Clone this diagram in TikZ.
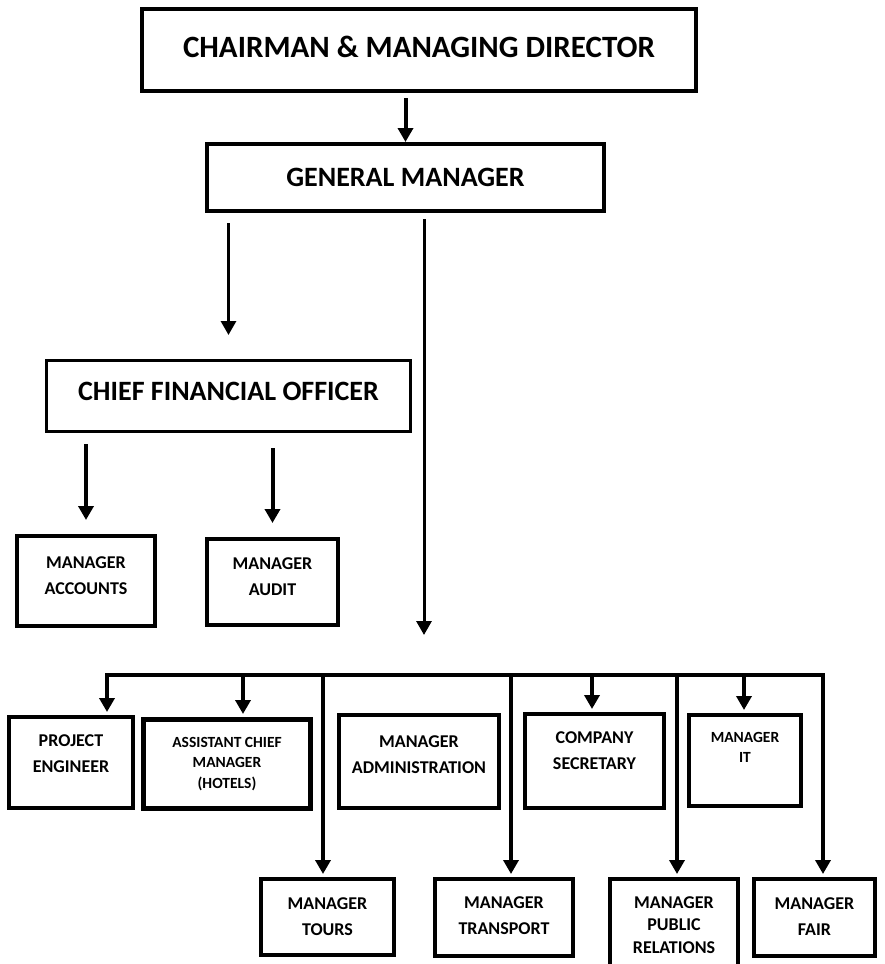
\documentclass[tikz,border=0pt]{standalone}
\usepackage{fontspec}
\setmainfont{Carlito}
\usetikzlibrary{arrows.meta}

\begin{document}
\begin{tikzpicture}[x=1pt, y=-1pt, >={Triangle[length=14pt,width=15pt]},
    box/.style={draw, line width=4pt, inner sep=0pt},
    lbl/.style={align=center, inner sep=0pt, font=\bfseries\fontsize{18}{26}\selectfont},
    small/.style={font=\bfseries\fontsize{15.5}{20.5}\selectfont},
    big/.style={font=\bfseries\fontsize{28}{32}\selectfont},
    arr/.style={->, line width=4pt}]
  \useasboundingbox (0,0) rectangle (884,964);
  \clip (0,0) rectangle (884,964);

  % Top
  \node[box, minimum width=554pt, minimum height=82pt] (chair) at (419,50) {};
  \node[box, minimum width=397pt, minimum height=67pt] (gm) at (405.5,177.5) {};
  \node[box, line width=3pt, minimum width=364pt, minimum height=71pt] (cfo) at (228.5,396) {};

  % Finance
  \node[box, minimum width=138pt, minimum height=90pt] (acc) at (86,581) {};
  \node[box, minimum width=131pt, minimum height=86pt] (aud) at (272.5,582) {};

  % Departments
  \node[box, minimum width=124pt, minimum height=91pt] (pe) at (71,762.5) {};
  \node[box, line width=5pt, minimum width=167pt, minimum height=89pt] (acm) at (227,764) {};
  \node[box, minimum width=160pt, minimum height=93pt] (adm) at (419,761.5) {};
  \node[box, minimum width=139pt, minimum height=94pt] (cs) at (594.5,761) {};
  \node[box, minimum width=112pt, minimum height=91pt] (it) at (745,760.5) {};
  \node[box, minimum width=133pt, minimum height=76pt] (tours) at (327.5,917) {};
  \node[box, minimum width=138pt, minimum height=77pt] (trans) at (504,917.5) {};
  \node[box, minimum width=128pt, minimum height=92pt] (pr) at (674,925) {};
  \node[box, minimum width=121pt, minimum height=77pt] (fair) at (814.5,917.5) {};

  % Labels
  \node[lbl, font=\bfseries\fontsize{31}{36}\selectfont] (chair-t) at ([yshift=3pt]chair) {CHAIRMAN \& MANAGING DIRECTOR};
  \node[lbl, big] (gm-t) at (gm) {GENERAL MANAGER};
  \node[lbl, big] (cfo-t) at ([yshift=5pt]cfo) {CHIEF FINANCIAL OFFICER};
  \node[lbl] (acc-t) at ([yshift=5pt]acc) {MANAGER\\ACCOUNTS};
  \node[lbl] (aud-t) at ([yshift=5.5pt]aud) {MANAGER\\AUDIT};
  \node[lbl] (pe-t) at ([yshift=9pt]pe) {PROJECT\\ENGINEER};
  \node[lbl, small] (acm-t) at (acm) {ASSISTANT CHIEF\\MANAGER\\(HOTELS)};
  \node[lbl] (adm-t) at ([yshift=7pt]adm) {MANAGER\\ADMINISTRATION};
  \node[lbl] (cs-t) at ([yshift=10pt]cs) {COMPANY\\SECRETARY};
  \node[lbl, small] (it-t) at ([yshift=13pt]it) {MANAGER\\IT};
  \node[lbl] (tours-t) at (tours) {MANAGER\\TOURS};
  \node[lbl] (trans-t) at ([yshift=2pt]trans) {MANAGER\\TRANSPORT};
  \node[lbl, font=\bfseries\fontsize{18}{22.5}\selectfont] (pr-t) at (pr) {MANAGER\\PUBLIC\\RELATIONS};
  \node[lbl] (fair-t) at ([yshift=1pt]fair) {MANAGER\\FAIR};

  % Bus
  \coordinate (d1) at (107,675);
  \coordinate (d2) at (243,675);
  \coordinate (d3) at (323,675);
  \coordinate (d4) at (511,675);
  \coordinate (d5) at (592,675);
  \coordinate (d6) at (677,675);
  \coordinate (d7) at (744,675);
  \coordinate (d8) at (823,675);
  \coordinate (gmend) at (424,635);

  % Arrows
  \draw[arr, shorten <=5pt] (chair.south -| gm.north) -- (gm.north);
  \draw[arr, line width=3pt, shorten <=10pt, shorten >=24pt] (gm.south -| cfo.north) -- (cfo.north);
  \draw[arr, line width=3pt, shorten <=6pt] (gm.south -| gmend) -- (gmend);
  \draw[arr, shorten <=11pt, shorten >=14pt] (cfo.south -| acc.north) -- (acc.north);
  \draw[arr, shorten <=15pt, shorten >=14pt] (cfo.south -| aud.north) -- (aud.north);

  \draw[line width=4pt, <->, shorten <=3pt, shorten >=3pt] (d1 |- pe.north) -- (d1) -- (d8) -- (d8 |- fair.north);
  \draw[arr, shorten >=3pt] (d2) -- (d2 |- acm.north);
  \draw[arr, shorten >=3pt] (d3) -- (d3 |- tours.north);
  \draw[arr, shorten >=3pt] (d4) -- (d4 |- trans.north);
  \draw[arr, shorten >=3pt] (d5) -- (d5 |- cs.north);
  \draw[arr, shorten >=3pt] (d6) -- (d6 |- pr.north);
  \draw[arr, shorten >=3pt] (d7) -- (d7 |- it.north);
\end{tikzpicture}
\end{document}
